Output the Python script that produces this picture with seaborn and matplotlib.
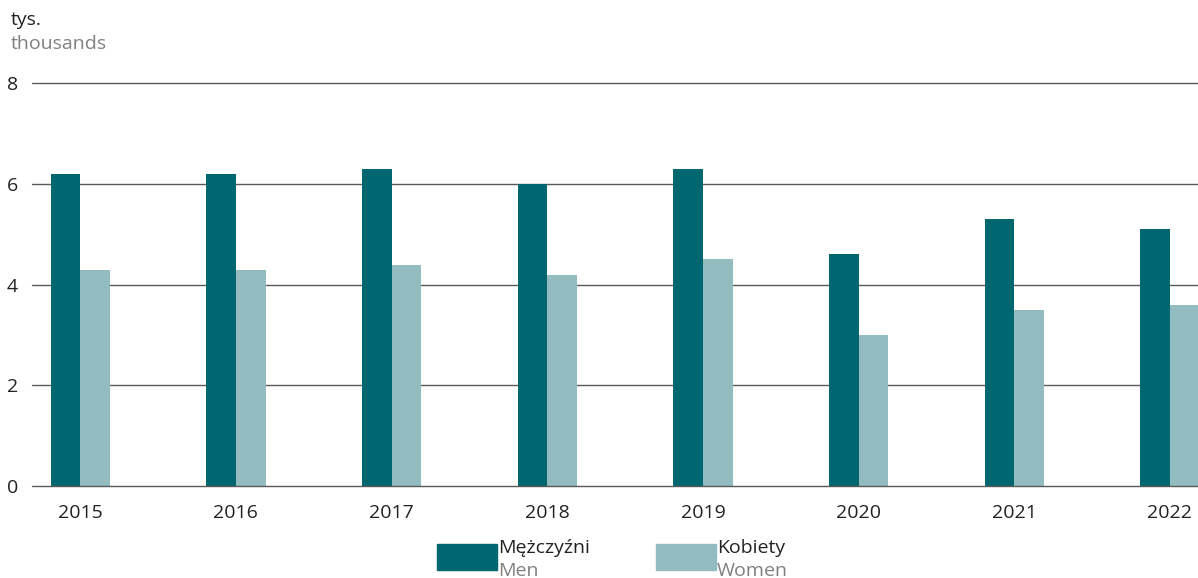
import numpy as np
import pandas as pd
import matplotlib.pyplot as plt
import seaborn as sns
from matplotlib.patches import Rectangle

# Dane
lata = ['2015', '2016', '2017', '2018', '2019', '2020', '2021', '2022']
mezczyzni = [6.2, 6.2, 6.3, 6.0, 6.3, 4.6, 5.3, 5.1]
kobiety = [4.3, 4.3, 4.4, 4.2, 4.5, 3.0, 3.5, 3.6]
serie = ['Mężczyźni', 'Kobiety']
serie_en = ['Men', 'Women']
kolory = ['#00666f', '#92bcbf']

dane = pd.DataFrame({
    'rok': lata * 2,
    'wartosc': mezczyzni + kobiety,
    'plec': [serie[0]] * len(lata) + [serie[1]] * len(lata),
})

sns.set_style('white')
plt.rcParams['font.family'] = ['Open Sans', 'DejaVu Sans']

fig = plt.figure(figsize=(11.98, 5.78), dpi=100)
ax = fig.add_axes([0.0267, 0.159, 0.9733, 0.697])

sns.barplot(data=dane, x='rok', y='wartosc', hue='plec', palette=kolory,
            width=0.38, gap=0, saturation=1, legend=False, ax=ax,
            linewidth=0, zorder=3)

ax.set_ylim(0, 8)
ax.set_xlim(-0.31, 7.18)
ax.set_yticks([0, 2, 4, 6, 8])
ax.grid(False)
for y in [0, 2, 4, 6, 8]:
    ax.axhline(y, color='#5a5a5a', linewidth=1.0, zorder=1 if y else 4, clip_on=False)
for s in ax.spines.values():
    s.set_visible(False)
ax.tick_params(axis='both', length=0, labelsize=14, colors='#222222')
ax.tick_params(axis='y', pad=10)
ax.tick_params(axis='x', pad=13)
ax.set_xlabel('')
ax.set_ylabel('')

# Opis jednostki
fig.text(0.009, 0.965, 'tys.', fontsize=14, color='#222222', va='center')
fig.text(0.009, 0.924, 'thousands', fontsize=14, color='#808080', va='center')

# Legenda
for i, (pl, en) in enumerate(zip(serie, serie_en)):
    x0 = 437 + i * 219
    fig.add_artist(Rectangle((x0 / 1198, 1 - 570 / 578), 60 / 1198, 26 / 578,
                             transform=fig.transFigure, color=kolory[i]))
    fig.text((x0 + 61) / 1198, 1 - 548 / 578, pl, fontsize=14, color='#222222', va='center')
    fig.text((x0 + 61) / 1198, 1 - 571 / 578, en, fontsize=14, color='#808080', va='center')

fig.savefig('out.png', dpi=100)
